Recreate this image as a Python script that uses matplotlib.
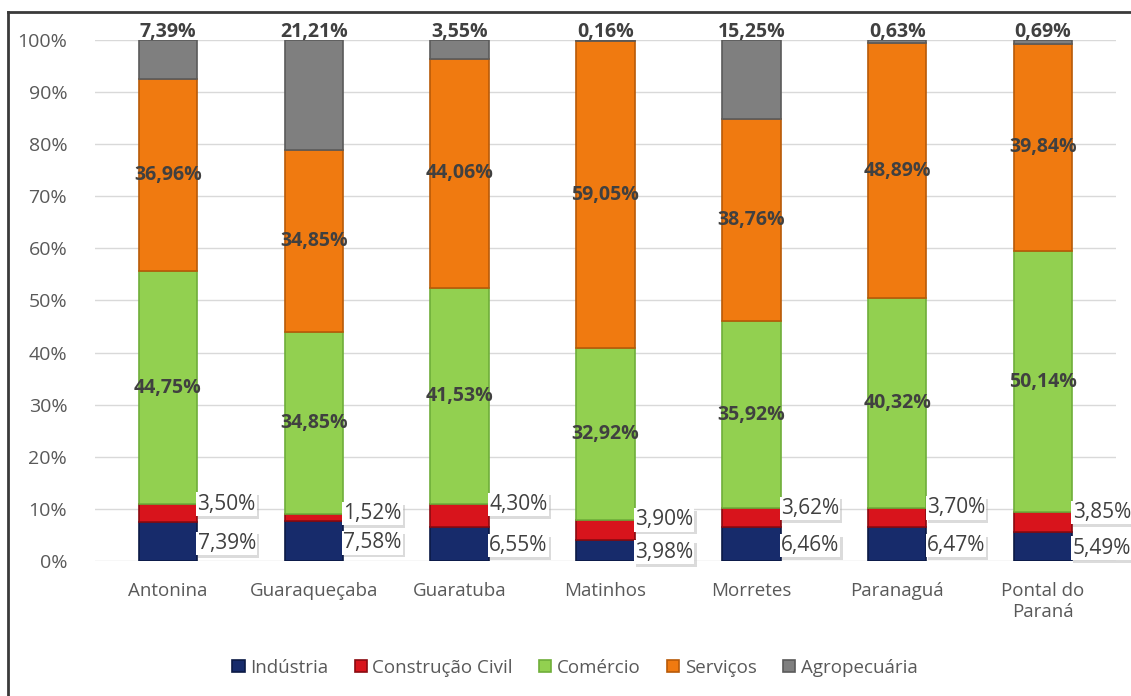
import numpy as np
import matplotlib
matplotlib.use("Agg")
import matplotlib.pyplot as plt
import matplotlib.patheffects as pe
from matplotlib.lines import Line2D

plt.rcParams['font.family'] = ['Open Sans', 'DejaVu Sans']

cidades = ['Antonina', 'Guaraqueçaba', 'Guaratuba', 'Matinhos', 'Morretes',
           'Paranaguá', 'Pontal do\nParaná']
industria = [7.39, 7.58, 6.55, 3.98, 6.46, 6.47, 5.49]
construcao = [3.50, 1.52, 4.30, 3.90, 3.62, 3.70, 3.85]
comercio = [44.75, 34.85, 41.53, 32.92, 35.92, 40.32, 50.14]
servicos = [36.96, 34.85, 44.06, 59.05, 38.76, 48.89, 39.84]
agro = [7.39, 21.21, 3.55, 0.16, 15.25, 0.63, 0.69]

nomes = ['Indústria', 'Construção Civil', 'Comércio', 'Serviços', 'Agropecuária']
cores = ['#172b6b', '#d8141c', '#92d050', '#f07a10', '#7f7f7f']
bordas = ['#0c1a45', '#8a0a10', '#6fae3a', '#b85a08', '#5a5a5a']

def fmt(v):
    return '{:.2f}%'.format(v).replace('.', ',')

fig = plt.figure(figsize=(11.31, 6.96), dpi=100)
ax = fig.add_axes([0.084, 0.194, 0.9027, 0.7485])

x = np.arange(len(cidades))
w = 0.40
series = [industria, construcao, comercio, servicos, agro]
base = np.zeros(len(cidades))
for s, nome, c, b in zip(series, nomes, cores, bordas):
    ax.bar(x, s, w, bottom=base, color=c, edgecolor=b, linewidth=1.2, label=nome, zorder=3)
    base = base + np.array(s)

lab = dict(ha='center', va='center', fontsize=14, fontweight='bold', color='#404040', zorder=5)
for i in range(len(cidades)):
    b_com = industria[i] + construcao[i]
    b_ser = b_com + comercio[i]
    ax.text(x[i], b_com + comercio[i] / 2, fmt(comercio[i]), **lab)
    ax.text(x[i], b_ser + servicos[i] / 2, fmt(servicos[i]), **lab)
    ax.text(x[i], 101.6, fmt(agro[i]), **lab)

    sombra = [pe.withSimplePatchShadow(offset=(1.5, -2), shadow_rgbFace='#b0b0b0', alpha=0.45)]
    for val, yy in [(construcao[i], b_com), (industria[i], industria[i] / 2 - 0.3)]:
        t = ax.text(x[i] + w / 2 + 0.003, yy, fmt(val), ha='left', va='center',
                    fontsize=15, color='#404040', zorder=6,
                    bbox=dict(boxstyle='square,pad=0.06', fc='white', ec='none'))
        t.get_bbox_patch().set_path_effects(sombra)

ax.set_xlim(-0.5, 6.5)
ax.set_ylim(0, 100)
ax.set_yticks(np.arange(0, 101, 10))
ax.set_yticklabels(['{}%'.format(v) for v in range(0, 101, 10)])
ax.set_xticks(x)
ax.set_xticklabels(cidades)
ax.tick_params(axis='both', length=0, colors='#595959')
ax.tick_params(axis='x', pad=15, labelsize=13.5)
ax.tick_params(axis='y', pad=20, labelsize=14)
ax.grid(axis='y', color='#d9d9d9', linewidth=1, zorder=0)
for sp in ax.spines.values():
    sp.set_visible(False)

leg = ax.legend(loc='center', bbox_to_anchor=(0.47, -0.205), ncol=5, frameon=False,
                fontsize=13.5, handlelength=0.65, handleheight=0.65, handletextpad=0.3,
                columnspacing=1.4)
for t in leg.get_texts():
    t.set_color('#595959')

fig.add_artist(Line2D([8 / 1131, 1], [1 - 12 / 696, 1 - 12 / 696], color='#3a3a3a', lw=2))
fig.add_artist(Line2D([8 / 1131, 8 / 1131], [0, 1 - 12 / 696], color='#3a3a3a', lw=2))

fig.savefig('out.png', dpi=100)
